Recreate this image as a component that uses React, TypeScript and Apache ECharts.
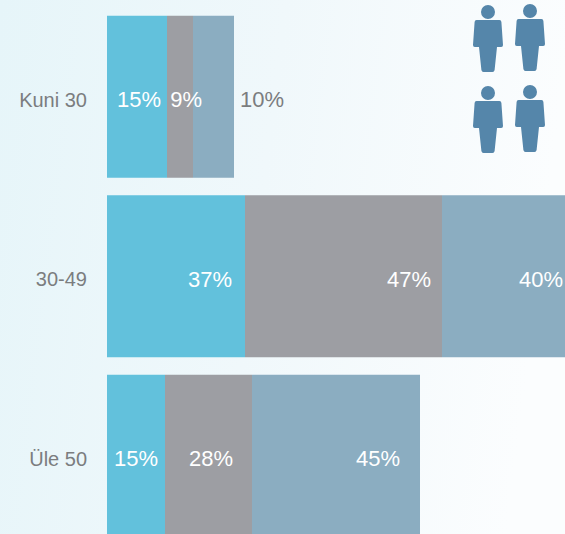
import React, { useEffect, useRef } from "react";
import * as echarts from "echarts";

const categories = ["Kuni 30", "30-49", "Üle 50"];
// Drawn bar lengths (the source's bars are not proportional to their labels)
const lengthA = [60, 138, 58];
const lengthB = [26, 197, 87];
const lengthC = [41, 123, 168];
const labelsA = ["15%", "37%", "15%"];
const labelsB = ["9%", "47%", "28%"];
const labelsC = ["10%", "40%", "45%"];
const padA = [6, 13, 7];
const padB = [-9, 11, 19];
const padC = [0, 2, 20];

const TEXT = "#7b7d7f";
const FONT = "'Liberation Sans', Arial, sans-serif";
const PERSON =
  "M0 0A7 7 0 1 1 0 14A7 7 0 1 1 0 0Z" +
  "M-11.5 15L11.5 15Q13.2 15 13.4 17L15 40Q15.1 42 13.2 42L9 42L6.6 65Q6.3 67 4.5 67L-4.5 67Q-6.3 67 -6.6 65L-9 42L-13.2 42Q-15.1 42 -15 40L-13.4 17Q-13.2 15 -11.5 15Z";
const personPositions = [
  [488, 5],
  [530, 4],
  [488, 86],
  [530, 85],
];

function makeSeries(name: string, values: number[], labels: string[], pads: number[], color: string) {
  return {
    name,
    type: "bar",
    stack: "total",
    barWidth: 162,
    itemStyle: { color },
    data: values.map((value, i) => {
      const outside = labels[i] === "10%";
      return {
        value,
        label: {
          show: true,
          formatter: labels[i],
          position: outside ? "right" : "insideRight",
          distance: outside ? 6 : pads[i],
          color: outside ? TEXT : "#ffffff",
          fontSize: 22,
          fontFamily: FONT,
          offset: [0, 3],
        },
      };
    }),
  };
}

export default function App() {
  const ref = useRef<HTMLDivElement>(null);
  useEffect(() => {
    if (!ref.current) return;
    echarts.graphic.registerShape("person", echarts.graphic.extendPath(PERSON, {}) as any);
    const chart = echarts.init(ref.current, undefined, { renderer: "svg" });
    chart.setOption({
      animation: false,
      backgroundColor: new echarts.graphic.LinearGradient(0, 0, 1, 0.12, [
        { offset: 0, color: "#e6f5f9" },
        { offset: 0.5, color: "#f0f8fb" },
        { offset: 1, color: "#fbfdfe" },
      ]),
      grid: { left: 107, top: 7, width: 458, height: 538.5 },
      xAxis: { type: "value", min: 0, max: 458, show: false },
      yAxis: {
        type: "category",
        inverse: true,
        data: categories,
        axisLine: { show: false },
        axisTick: { show: false },
        axisLabel: {
          color: TEXT,
          fontSize: 20,
          fontFamily: FONT,
          margin: 20,
          verticalAlign: "top",
          lineHeight: 6,
        },
      },
      series: [
        makeSeries("A", lengthA, labelsA, padA, "#62c1dc"),
        makeSeries("B", lengthB, labelsB, padB, "#9d9ea3"),
        makeSeries("C", lengthC, labelsC, padC, "#8badc1"),
      ],
      graphic: personPositions.map(([x, y]) => ({
        type: "person",
        x,
        y,
        silent: true,
        style: { fill: "#5586aa" },
      })),
    });
    return () => chart.dispose();
  }, []);
  return (
    <div style={{ position: "absolute", left: 0, top: 0, width: 565, height: 534, overflow: "hidden" }}>
      <div ref={ref} style={{ width: 565, height: 550 }} />
    </div>
  );
}
